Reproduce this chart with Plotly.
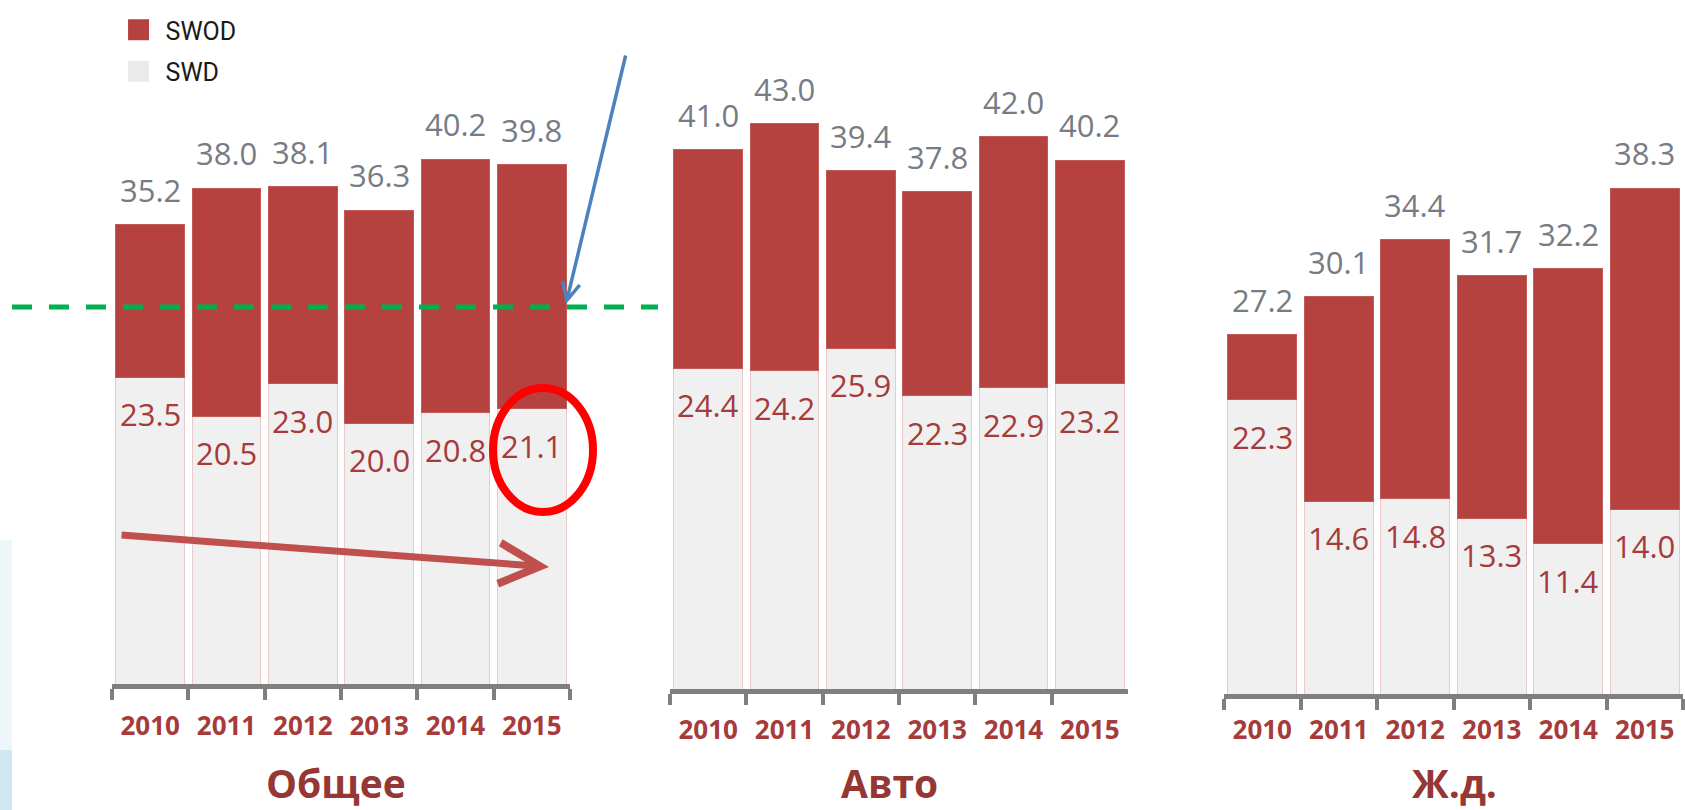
import plotly.graph_objects as go

# ---------------- data ----------------
years = ["2010", "2011", "2012", "2013", "2014", "2015"]
panel_titles = ["Общее", "Авто", "Ж.д."]
series_names = ["SWOD", "SWD"]

total_obshchee = [35.2, 38.0, 38.1, 36.3, 40.2, 39.8]
swd_obshchee = [23.5, 20.5, 23.0, 20.0, 20.8, 21.1]

total_avto = [41.0, 43.0, 39.4, 37.8, 42.0, 40.2]
swd_avto = [24.4, 24.2, 25.9, 22.3, 22.9, 23.2]

total_zhd = [27.2, 30.1, 34.4, 31.7, 32.2, 38.3]
swd_zhd = [22.3, 14.6, 14.8, 13.3, 11.4, 14.0]

# ---------------- style / layout constants ----------------
W, H = 1685, 810
RED = "#B64240"
LIGHT = "#F0F0F0"
LIGHT_EDGE = "#E9C9C9"
TOTAL_TXT = "#767C85"
SWD_TXT = "#A63B3B"
YEAR_TXT = "#A63B3B"
TITLE_TXT = "#953735"
AXIS_GRAY = "#7F7F7F"

X_DOMAINS_PX = [(112, 570), (670, 1128), (1224, 1683)]
BASE_PX = [684, 689, 694]
PX_PER_UNIT = [13.05, 13.15, 13.2]
LABEL_STANDOFF = [15, 14, 9]
Y_MAX = 45
TITLE_X_PX = [336, 889, 1454]

panels = [
    (total_obshchee, swd_obshchee),
    (total_avto, swd_avto),
    (total_zhd, swd_zhd),
]

fig = go.Figure()
annotations = []
layout_axes = {}

for i, (tot, swd) in enumerate(panels):
    n = "" if i == 0 else str(i + 1)
    xa, ya = "x" + n, "y" + n
    swod = [round(t - s, 1) for t, s in zip(tot, swd)]

    fig.add_trace(go.Bar(
        x=years, y=swd, name=series_names[1], xaxis=xa, yaxis=ya,
        marker=dict(color=LIGHT, line=dict(color=LIGHT_EDGE, width=1)),
        showlegend=False, hoverinfo="x+y",
    ))
    fig.add_trace(go.Bar(
        x=years, y=swod, name=series_names[0], xaxis=xa, yaxis=ya,
        marker=dict(color=RED, line=dict(color="#C25A58", width=1)),
        showlegend=False, hoverinfo="x+y",
    ))

    x0, x1 = X_DOMAINS_PX[i]
    base = BASE_PX[i]
    top = base - Y_MAX * PX_PER_UNIT[i]
    layout_axes["xaxis" + n] = dict(
        domain=[x0 / W, x1 / W], anchor=ya, type="category",
        categoryorder="array", categoryarray=years, range=[-0.5, 5.5],
        showline=True, linecolor=AXIS_GRAY, linewidth=5,
        ticks="outside", tickson="boundaries", ticklen=11, tickwidth=3.5,
        tickcolor=AXIS_GRAY, showgrid=False, zeroline=False,
        tickfont=dict(family="Open Sans", size=26, color=YEAR_TXT, weight="bold"),
        ticklabelstandoff=LABEL_STANDOFF[i], fixedrange=True,
    )
    layout_axes["yaxis" + n] = dict(
        domain=[1 - base / H, 1 - top / H], anchor=xa, range=[0, Y_MAX],
        visible=False, fixedrange=True,
    )

    # category axes take the category's serial number as annotation position
    for j, (t, s) in enumerate(zip(tot, swd)):
        annotations.append(dict(
            x=j, y=t, xref=xa, yref=ya, text=f"{t:.1f}", showarrow=False,
            yanchor="middle", yshift=35,
            font=dict(family="Open Sans", size=31, color=TOTAL_TXT),
        ))
        annotations.append(dict(
            x=j, y=s, xref=xa, yref=ya, text=f"{s:.1f}", showarrow=False,
            yanchor="middle", yshift=-37,
            font=dict(family="Open Sans", size=31, color=SWD_TXT),
        ))

    annotations.append(dict(
        x=TITLE_X_PX[i] / W, y=0, xref="paper", yref="paper",
        text=f"<b>{panel_titles[i]}</b>", showarrow=False,
        xanchor="center", yanchor="bottom", borderpad=0,
        font=dict(family="Open Sans", size=39, color=TITLE_TXT),
    ))

# legend proxies (bigger swatches than the default bar swatch)
fig.add_trace(go.Scatter(
    x=[None], y=[None], mode="markers", name=series_names[0], legendgroup="a",
    marker=dict(symbol="square", size=16, color=RED, line=dict(color=RED, width=5)),
    xaxis="x", yaxis="y", hoverinfo="skip",
))
fig.add_trace(go.Scatter(
    x=[None], y=[None], mode="markers", name=series_names[1], legendgroup="b",
    marker=dict(symbol="square", size=16, color="#EBEBEB", line=dict(color="#EBEBEB", width=5)),
    xaxis="x", yaxis="y", hoverinfo="skip",
))

# slide drawings: blue arrow, red arrow
annotations.append(dict(
    x=566 / W, y=1 - 304 / H, xref="paper", yref="paper", text="",
    showarrow=True, ax=60, ay=-250, arrowcolor="#4F81BD", arrowwidth=3.5,
    arrowhead=5, arrowsize=1, standoff=0,
))
annotations.append(dict(
    x=549 / W, y=1 - 567 / H, xref="paper", yref="paper", text="",
    showarrow=True, ax=-429, ay=-32, arrowcolor="#C0504D", arrowwidth=7,
    arrowhead=5, arrowsize=1.15, standoff=0,
))

shapes = [
    # slide background decoration at the left edge
    dict(type="rect", xref="paper", yref="paper", x0=0, x1=12 / W,
         y0=0, y1=1 - 540 / H, fillcolor="#EDF6F9", line=dict(width=0), layer="below"),
    dict(type="rect", xref="paper", yref="paper", x0=0, x1=12 / W,
         y0=0, y1=1 - 750 / H, fillcolor="#CFE7F0", line=dict(width=0), layer="below"),
    dict(type="line", xref="paper", yref="paper", x0=12 / W, x1=658 / W,
         y0=1 - 307 / H, y1=1 - 307 / H,
         line=dict(color="#00B050", width=5, dash="20px,17px")),
    dict(type="circle", xref="paper", yref="paper",
         x0=(543 - 50) / W, x1=(543 + 50) / W,
         y0=1 - (450 + 62) / H, y1=1 - (450 - 62) / H,
         line=dict(color="#FF0000", width=8)),
]

fig.update_layout(
    width=W, height=H, autosize=False,
    margin=dict(l=0, r=0, t=0, b=0, pad=0),
    paper_bgcolor="white", plot_bgcolor="rgba(0,0,0,0)",
    barmode="stack", bargap=0.1,
    showlegend=True,
    legend=dict(
        x=0.0662, y=1 - 7 / H, xanchor="left", yanchor="top",
        font=dict(family="Roboto", size=25, color="#1A1A1A"),
        traceorder="grouped", tracegroupgap=6, itemwidth=44,
        bgcolor="rgba(0,0,0,0)", itemclick=False, itemdoubleclick=False,
    ),
    annotations=annotations,
    shapes=shapes,
    **layout_axes,
)

fig.write_html(
    "out.html",
    config={"displayModeBar": False},
    post_script="document.body.style.margin='0';document.body.style.overflow='hidden';",
)
